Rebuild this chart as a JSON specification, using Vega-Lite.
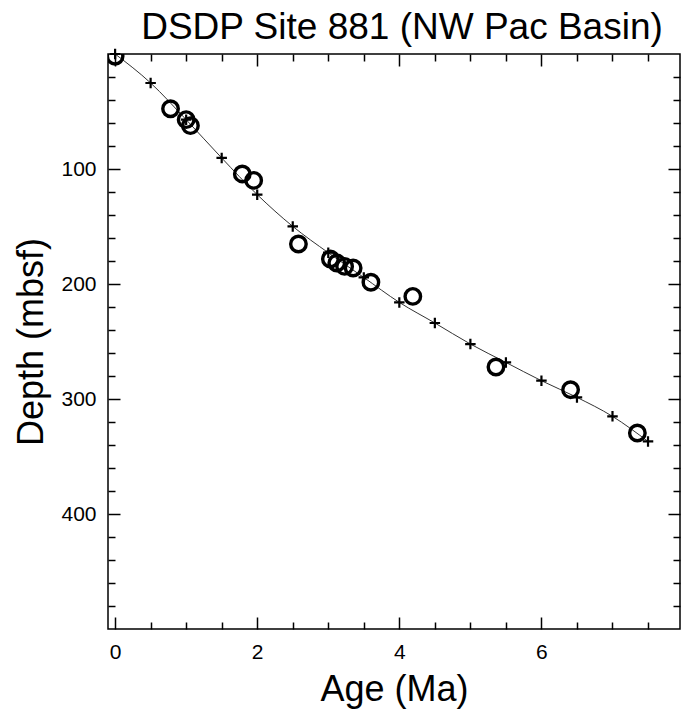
{
  "$schema": "https://vega.github.io/schema/vega-lite/v6.json",
  "width": 572,
  "height": 575,
  "autosize": {"type": "none"},
  "padding": {"left": 108, "top": 54, "right": 1, "bottom": 85},
  "background": "white",
  "config": {
    "view": {"stroke": "#000", "strokeWidth": 1.5},
    "font": "Liberation Sans",
    "axis": {"grid": false, "domain": false, "tickColor": "#000", "tickWidth": 1.5, "labelColor": "#000", "titleColor": "#000", "labelFont": "Liberation Sans", "titleFont": "Liberation Sans", "titleFontWeight": "normal"}
  },
  "title": {"text": "DSDP Site 881 (NW Pac Basin)", "fontSize": 37, "fontWeight": "normal", "font": "Liberation Sans", "color": "#000", "anchor": "middle", "offset": -3, "dx": 8},
  "datasets": {
    "model": [
      {"age": 0.0, "depth": 0},
      {"age": 0.5, "depth": 25.2},
      {"age": 1.0, "depth": 57.1},
      {"age": 1.5, "depth": 90.4},
      {"age": 2.0, "depth": 122.3},
      {"age": 2.5, "depth": 149.9},
      {"age": 3.0, "depth": 172.8},
      {"age": 3.5, "depth": 194.3},
      {"age": 4.0, "depth": 216.0},
      {"age": 4.5, "depth": 233.9},
      {"age": 5.0, "depth": 252.2},
      {"age": 5.5, "depth": 268.2},
      {"age": 6.0, "depth": 284.1},
      {"age": 6.5, "depth": 298.6},
      {"age": 7.0, "depth": 315.1},
      {"age": 7.5, "depth": 336.9}
    ],
    "datums": [
      {"age": 0.0, "depth": 2},
      {"age": 0.78, "depth": 47.6},
      {"age": 1.0, "depth": 57.1},
      {"age": 1.06, "depth": 62.3},
      {"age": 1.79, "depth": 104.3},
      {"age": 1.95, "depth": 109.9},
      {"age": 2.58, "depth": 165.2},
      {"age": 3.03, "depth": 178.3},
      {"age": 3.12, "depth": 181.7},
      {"age": 3.23, "depth": 184.7},
      {"age": 3.35, "depth": 186.1},
      {"age": 3.6, "depth": 198.5},
      {"age": 4.19, "depth": 210.8},
      {"age": 5.36, "depth": 272.2},
      {"age": 6.41, "depth": 291.9},
      {"age": 7.35, "depth": 329.6}
    ]
  },
  "resolve": {"axis": {"x": "independent", "y": "independent"}},
  "layer": [
    {
      "data": {"name": "model"},
      "mark": {"type": "line", "interpolate": "monotone", "color": "#333", "strokeWidth": 1},
      "encoding": {
        "x": {"field": "age", "type": "quantitative",
              "scale": {"domain": [-0.1, 7.95], "nice": false, "zero": false},
              "axis": {"orient": "bottom", "values": [0, 2, 4, 6], "tickSize": -12, "labelPadding": 24, "labelFontSize": 21, "title": "Age (Ma)", "titleFontSize": 36, "titlePadding": 10}},
        "y": {"field": "depth", "type": "quantitative",
              "scale": {"domain": [0, 500], "nice": false, "zero": false, "reverse": true},
              "axis": {"orient": "left", "values": [100, 200, 300, 400], "tickSize": -12, "labelPadding": 24, "labelFontSize": 21, "title": "Depth (mbsf)", "titleFontSize": 36, "titlePadding": 10}}
      }
    },
    {
      "data": {"name": "model"},
      "mark": {"type": "point", "shape": "M-1,0H1M0,-1V1", "size": 110, "stroke": "#000", "strokeWidth": 2.2, "filled": false, "opacity": 1},
      "encoding": {
        "x": {"field": "age", "type": "quantitative",
              "axis": {"orient": "bottom", "values": [0.5, 1, 1.5, 2.5, 3, 3.5, 4.5, 5, 5.5, 6.5, 7, 7.5], "tickSize": -7, "labels": false, "title": null}},
        "y": {"field": "depth", "type": "quantitative",
              "axis": {"orient": "left", "values": [20, 40, 60, 80, 120, 140, 160, 180, 220, 240, 260, 280, 320, 340, 360, 380, 420, 440, 460, 480], "tickSize": -7, "labels": false, "title": null}}
      }
    },
    {
      "data": {"name": "datums"},
      "mark": {"type": "point", "shape": "circle", "size": 240, "stroke": "#000", "strokeWidth": 3.4, "filled": false, "opacity": 1, "clip": true},
      "encoding": {
        "x": {"field": "age", "type": "quantitative",
              "axis": {"orient": "top", "values": [0, 2, 4, 6], "tickSize": -12, "labels": false, "title": null}},
        "y": {"field": "depth", "type": "quantitative",
              "axis": {"orient": "right", "values": [100, 200, 300, 400], "tickSize": -12, "labels": false, "title": null}}
      }
    },
    {
      "data": {"name": "datums"},
      "mark": {"type": "point", "size": 1, "opacity": 0},
      "encoding": {
        "x": {"field": "age", "type": "quantitative",
              "axis": {"orient": "top", "values": [0.5, 1, 1.5, 2.5, 3, 3.5, 4.5, 5, 5.5, 6.5, 7, 7.5], "tickSize": -7, "labels": false, "title": null}},
        "y": {"field": "depth", "type": "quantitative",
              "axis": {"orient": "right", "values": [20, 40, 60, 80, 120, 140, 160, 180, 220, 240, 260, 280, 320, 340, 360, 380, 420, 440, 460, 480], "tickSize": -7, "labels": false, "title": null}}
      }
    }
  ]
}
